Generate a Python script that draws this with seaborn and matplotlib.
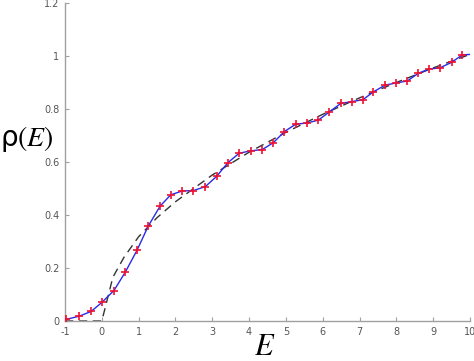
import numpy as np
import pandas as pd
import matplotlib
matplotlib.use("Agg")
import matplotlib.pyplot as plt
import seaborn as sns

# sampled density of states (markers)
energy = [-0.97, -0.62, -0.29, 0.0, 0.33, 0.64, 0.96, 1.26, 1.58, 1.87,
          2.19, 2.48, 2.81, 3.12, 3.42, 3.73, 4.04, 4.36, 4.66, 4.96,
          5.27, 5.57, 5.88, 6.18, 6.49, 6.79, 7.09, 7.37, 7.69, 7.99,
          8.30, 8.60, 8.89, 9.18, 9.50, 9.79]
rho = [0.006, 0.018, 0.036, 0.070, 0.115, 0.185, 0.268, 0.358, 0.433, 0.476,
       0.491, 0.492, 0.507, 0.546, 0.597, 0.633, 0.642, 0.647, 0.673, 0.715,
       0.743, 0.747, 0.758, 0.789, 0.821, 0.828, 0.835, 0.864, 0.890, 0.898,
       0.906, 0.935, 0.951, 0.955, 0.976, 1.004]
# blue curve runs on to the axis edge
line_end_e = [10.0]
line_end_rho = [1.006]

# dashed smooth (Weyl-type) curve
smooth_e = [-1, 0, 0.3, 0.6, 1, 1.5, 2, 3, 4, 5, 6, 7, 8, 9, 10]
smooth_rho = [0, 0, 0.165, 0.240, 0.318, 0.390, 0.450,
              0.551, 0.637, 0.712, 0.780, 0.842, 0.900, 0.955, 1.006]

x_ticks = list(range(-1, 11))
y_ticks = [0, 0.2, 0.4, 0.6, 0.8, 1, 1.2]
y_labels = ["0", "0.2", "0.4", "0.6", "0.8", "1", "1.2"]

sns.set_theme(style="ticks")
plt.rcParams["mathtext.fontset"] = "stix"
plt.rcParams["font.family"] = ["DejaVu Sans"]

fig = plt.figure(figsize=(4.74, 3.61), dpi=100)
ax = fig.add_axes([65 / 474, 40 / 361, 405 / 474, 318 / 361])

smooth_df = pd.DataFrame({"E": smooth_e, "rho": smooth_rho})
line_df = pd.DataFrame({"E": energy + line_end_e, "rho": rho + line_end_rho})
pts_df = pd.DataFrame({"E": energy, "rho": rho})

sns.lineplot(data=smooth_df, x="E", y="rho", ax=ax, color="#333333",
             linewidth=1.0, sort=False, zorder=2)
ax.lines[-1].set_dashes([6, 4])
sns.lineplot(data=line_df, x="E", y="rho", ax=ax, color="#2a2ae8",
             linewidth=1.0, sort=False, zorder=3)
sns.scatterplot(data=pts_df, x="E", y="rho", ax=ax, marker="+", color="#ee1133",
                s=36, linewidth=1.2, zorder=4)

ax.set_xlim(-1, 10)
ax.set_ylim(0, 1.2)
ax.set_xticks(x_ticks)
ax.set_xticklabels([str(t) for t in x_ticks])
ax.set_yticks(y_ticks)
ax.set_yticklabels(y_labels)
ax.set_xlabel("")
ax.set_ylabel("")

sns.despine(ax=ax)
for side in ["left", "bottom"]:
    ax.spines[side].set_color("#a0a0a0")
    ax.spines[side].set_linewidth(1.0)
ax.tick_params(direction="in", length=3, width=0.8, color="#a0a0a0",
               labelsize=7, labelcolor="#555555", pad=4)

fig.text(0.0, 1 - 139 / 361, "ρ$(E)$", fontsize=20, ha="left", va="center", color="black")
fig.text(265 / 474, 0.0, "$E$", fontsize=22, ha="center", va="bottom", color="black")

fig.savefig("out.png", dpi=100)
